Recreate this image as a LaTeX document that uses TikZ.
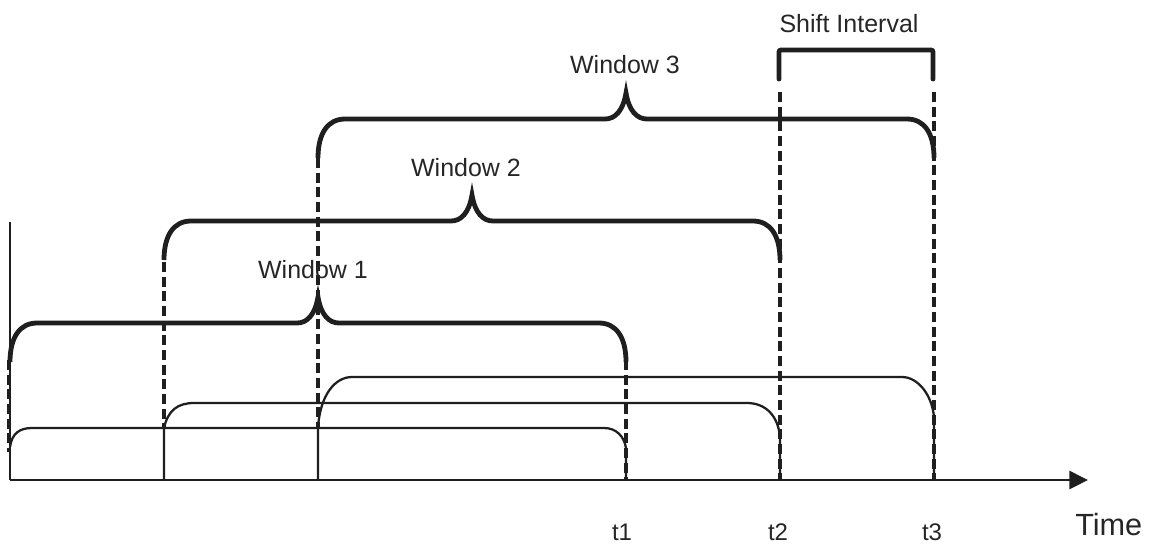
\documentclass[tikz,border=0pt]{standalone}
\usepackage{fontspec}
\setmainfont{Liberation Sans}
\usetikzlibrary{arrows.meta}
\newcommand{\winbrace}[3]{% #1 left x, #2 right x, #3 plateau y
  \pgfmathsetmacro\mx{(#1+#2)/2}
  \draw[bracestyle] (#1,#3+39) .. controls (#1,#3+14) and (#1+10,#3) .. (#1+27,#3)
    -- (\mx-21,#3) .. controls (\mx-11,#3) and (\mx-3,#3-8) .. (\mx,#3-26)
    .. controls (\mx+3,#3-8) and (\mx+11,#3) .. (\mx+21,#3)
    -- (#2-27,#3) .. controls (#2-10,#3) and (#2,#3+14) .. (#2,#3+39);
}
\begin{document}
\begin{tikzpicture}[x=0.75pt,y=-0.75pt,
  bracestyle/.style={line width=3.6pt,draw=black!88},
  lowwin/.style={line width=1.7pt,draw=black!88},
  axisline/.style={line width=2pt,draw=black!88},
  dashline/.style={line width=2.3pt,draw=black!88,dash pattern=on 7.5pt off 3.5pt},
  lbl/.style={font=\fontsize{18.75pt}{20pt}\selectfont,text=black!85,anchor=base,inner sep=0pt},
  tlbl/.style={font=\fontsize{18pt}{20pt}\selectfont,text=black!85,anchor=base,inner sep=0pt}]
\useasboundingbox (0,0) rectangle (1155,544);
% axes
\coordinate (ytop) at (10,222);
\coordinate (o) at (10,480);
\coordinate (xend) at (1088,480);
\draw[axisline] (ytop) -- (o);
\draw[axisline,-{Triangle[length=14pt,width=13.5pt]}] (o) -- (xend);
% dashed guide lines
\draw[dashline] (8.5,360) -- (8.5,452);
\draw[dashline] (164,262) -- (164,428);
\draw[dashline] (318,158) -- (318,428);
\draw[dashline] (626,360) -- (626,480);
\draw[dashline] (780,92) -- (780,480);
\draw[dashline] (934,92) -- (934,480);
% lower window shapes
\draw[lowwin] (10,447) .. controls (12,433) and (20,428) .. (32,428) -- (604,428)
  .. controls (616,428) and (624,436) .. (626,448) -- (626,480);
\draw[lowwin] (164,480) -- (164,428) .. controls (168,410) and (178,403) .. (194,403) -- (747,403)
  .. controls (765,403) and (778,415) .. (780,437) -- (780,480);
\draw[lowwin] (318,480) -- (318,428) .. controls (320,395) and (335,377) .. (352,377) -- (902,377)
  .. controls (918,377) and (932,395) .. (934,417) -- (934,480);
% braces
\winbrace{10}{626}{323}
\winbrace{164}{780}{221}
\winbrace{318}{934}{119}
% shift interval bracket
\draw[bracestyle,line cap=round,rounded corners=1.5pt] (779,79) -- (779,50) -- (933,50) -- (933,79);
% labels
\node[lbl] (w1) at (313,278) {Window 1};
\node[lbl] (w2) at (466,176) {Window 2};
\node[lbl] (w3) at (625,73) {Window 3};
\node[lbl] (shift) at (849,32) {Shift Interval};
\node[tlbl] (t1) at (622,540) {t1};
\node[tlbl] (t2) at (778,540) {t2};
\node[tlbl] (t3) at (932,540) {t3};
\node[font=\fontsize{23pt}{25pt}\selectfont,text=black!85,anchor=base west,inner sep=0pt] (time) at (1075,535) {Time};
\end{tikzpicture}
\end{document}
